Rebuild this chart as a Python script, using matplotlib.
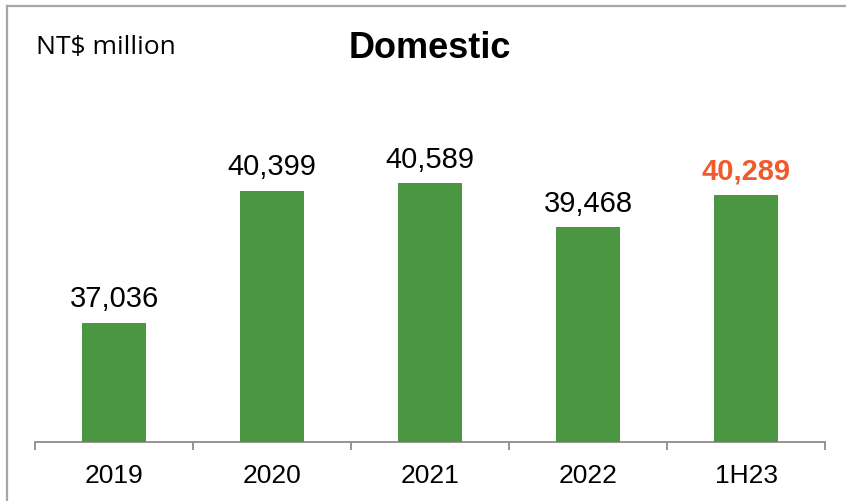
import numpy as np
import matplotlib.pyplot as plt
from matplotlib.lines import Line2D

# chart data
categories = ["2019", "2020", "2021", "2022", "1H23"]
revenue = [37036, 40399, 40589, 39468, 40289]
label_colors = ["black", "black", "black", "black", "#F15A2B"]
label_weights = ["normal", "normal", "normal", "normal", "bold"]

bar_color = "#4A9641"
axis_gray = "#8C8C8C"

plt.rcParams['font.family'] = ['Liberation Sans', 'DejaVu Sans']

fig = plt.figure(figsize=(8.46, 5.01), dpi=100)
ax = fig.add_axes([35 / 846, 1 - 442 / 501, (825 - 35) / 846, (442 - 60) / 501])

x = np.arange(len(categories))
bars = ax.bar(x, revenue, width=0.4, color=bar_color, zorder=3)

# value labels above bars
for b, v, c, w in zip(bars, revenue, label_colors, label_weights):
    ax.annotate(f"{v:,}", (b.get_x() + b.get_width() / 2, v),
                xytext=(0, 7), textcoords="offset points",
                ha="center", va="bottom", fontsize=21, color=c, fontweight=w)

ax.set_xlim(-0.5, len(categories) - 0.5)
ax.set_ylim(34000, 43730)

ax.set_xticks(x)
ax.set_xticklabels(categories, fontsize=19)
ax.tick_params(axis="x", length=0, pad=16)
ax.set_xticks(np.arange(-0.5, len(categories)), minor=True)
ax.tick_params(axis="x", which="minor", length=6, width=1.3, color=axis_gray, direction="out")
ax.set_yticks([])

for s in ["top", "right", "left"]:
    ax.spines[s].set_visible(False)
ax.spines["bottom"].set_color(axis_gray)
ax.spines["bottom"].set_linewidth(1.3)

# title and unit
fig.text(430 / 846, 1 - 48 / 501, "Domestic", ha="center", va="center",
         fontsize=26, fontweight="bold")
fig.text(36 / 846, 1 - 48 / 501, "NT$ million", ha="left", va="center",
         fontsize=19, family=["Open Sans", "DejaVu Sans"])

# gray frame along top and left edge
fig.add_artist(Line2D([7 / 846, 7 / 846], [0, 1 - 6 / 501], color="#A6A6A6", lw=1.6))
fig.add_artist(Line2D([7 / 846, 1], [1 - 6 / 501, 1 - 6 / 501], color="#A6A6A6", lw=1.6))

fig.savefig("out.png", dpi=100)
